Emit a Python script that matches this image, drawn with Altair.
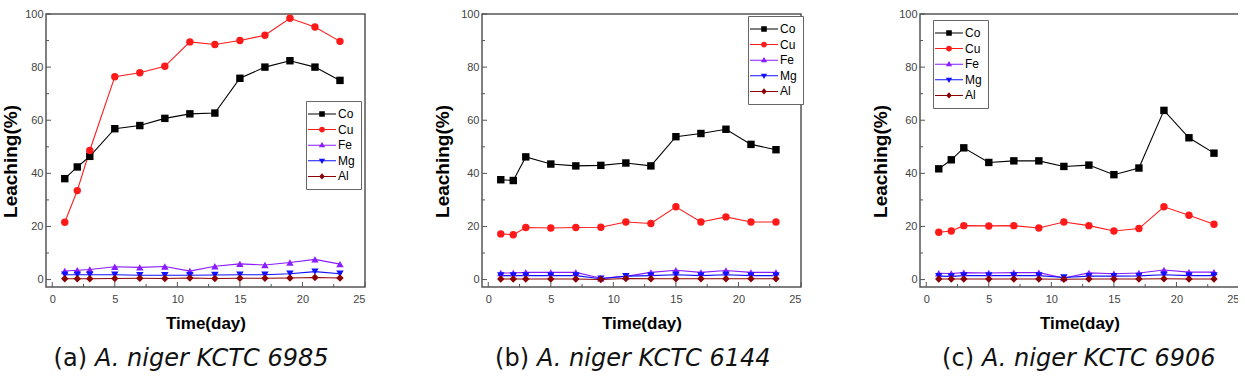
import altair as alt
import pandas as pd

# Sampling days (same for every strain)
days = [1, 2, 3, 5, 7, 9, 11, 13, 15, 17, 19, 21, 23]
metals = ["Co", "Cu", "Fe", "Mg", "Al"]
metal_colors = ["#000000", "#ff1a1a", "#8a1cff", "#1010ff", "#8b0000"]
point_shapes = ["square", "circle", "triangle-up", "triangle-down", "diamond"]

# Leaching (%) per strain and metal
co_a = [38.0, 42.4, 46.4, 56.8, 58.0, 60.7, 62.4, 62.7, 75.8, 80.0, 82.4, 80.0, 75.0]
cu_a = [21.6, 33.5, 48.6, 76.4, 77.9, 80.3, 89.5, 88.5, 90.0, 92.0, 98.4, 95.1, 89.7]
fe_a = [3.2, 3.5, 3.8, 4.8, 4.6, 4.9, 3.2, 5.0, 5.9, 5.5, 6.4, 7.6, 5.8]
mg_a = [1.8, 1.8, 1.8, 1.8, 1.6, 1.6, 1.6, 1.7, 1.8, 1.8, 2.2, 3.0, 2.2]
al_a = [0.3, 0.3, 0.3, 0.4, 0.5, 0.4, 0.6, 0.4, 0.5, 0.5, 0.6, 0.8, 0.6]

co_b = [37.6, 37.3, 46.2, 43.5, 42.8, 43.0, 43.9, 42.8, 53.8, 55.0, 56.6, 50.9, 48.9]
cu_b = [17.2, 16.9, 19.6, 19.4, 19.6, 19.7, 21.7, 21.1, 27.4, 21.7, 23.6, 21.7, 21.7]
fe_b = [2.5, 2.5, 2.7, 2.7, 2.7, 0.5, 1.2, 2.7, 3.5, 2.7, 3.4, 2.7, 2.7]
mg_b = [1.5, 1.5, 1.5, 1.5, 1.5, 0.3, 1.3, 1.5, 1.8, 1.5, 1.8, 1.5, 1.5]
al_b = [0.2, 0.2, 0.2, 0.2, 0.2, 0.0, 0.4, 0.3, 0.3, 0.3, 0.3, 0.3, 0.3]

co_c = [41.7, 45.1, 49.6, 44.1, 44.7, 44.7, 42.6, 43.1, 39.5, 42.0, 63.7, 53.4, 47.6]
cu_c = [17.8, 18.3, 20.3, 20.2, 20.3, 19.4, 21.7, 20.3, 18.3, 19.2, 27.4, 24.2, 20.8]
fe_c = [2.4, 2.3, 2.6, 2.5, 2.6, 2.6, 0.6, 2.5, 2.2, 2.5, 3.6, 2.8, 2.8]
mg_c = [1.3, 1.2, 1.5, 1.5, 1.5, 1.5, 0.8, 1.3, 1.3, 1.4, 1.8, 1.5, 1.5]
al_c = [0.2, 0.2, 0.2, 0.2, 0.2, 0.2, 0.1, 0.2, 0.2, 0.2, 0.3, 0.2, 0.2]

panel_tags = ["(a)", "(b)", "(c)"]
strains = ["A. niger KCTC 6985", "A. niger KCTC 6144", "A. niger KCTC 6906"]
series = [
    [co_a, cu_a, fe_a, mg_a, al_a],
    [co_b, cu_b, fe_b, mg_b, al_b],
    [co_c, cu_c, fe_c, mg_c, al_c],
]

# Axis tick values
x_major = [0, 5, 10, 15, 20, 25]
x_minor = [2.5, 7.5, 12.5, 17.5, 22.5]
y_major = [0, 20, 40, 60, 80, 100]
y_minor = [10, 30, 50, 70, 90]

# Layout
W, H = 319, 273
X_DOMAIN = [-0.5, 25]
Y_DOMAIN = [-2.8, 100]
FONT = "Liberation Sans, Arial, sans-serif"
NARROW = "Liberation Sans Narrow, Arial Narrow, Liberation Sans, sans-serif"
CAPTION_FONT = "DejaVu Sans, sans-serif"
legend_pos = [(260, 87), (266, 2), (13, 6)]
caption_x = [49, 55, 62]
y_title_pad = [4, 8, 8]

# Legend glyphs: a short line with the marker on it (unit box is +-1)
seg = "M-2,-0.07H2V0.07H-2Z "
legend_paths = [
    seg + "M-0.4,-0.4H0.4V0.4H-0.4Z",
    seg + "M-0.42,0A0.42,0.42 0 1,1 0.42,0A0.42,0.42 0 1,1 -0.42,0Z",
    seg + "M0,-0.45L0.45,0.3L-0.45,0.3Z",
    seg + "M-0.45,-0.3L0.45,-0.3L0,0.45Z",
    seg + "M0,-0.45L0.4,0L0,0.45L-0.4,0Z",
]

x_scale = alt.Scale(domain=X_DOMAIN, nice=False, zero=False)
y_scale = alt.Scale(domain=Y_DOMAIN, nice=False, zero=False)

x_enc = alt.X(
    "day:Q", scale=x_scale,
    axis=alt.Axis(
        values=x_major, format="d", title="Time(day)", grid=False, domain=False,
        ticks=False, tickSize=0, labelPadding=6, labelFont=FONT, labelFontSize=11,
        labelColor="#444", titleFont=NARROW, titleFontSize=17, titleFontWeight="bold",
        titleColor="#000", titlePadding=11,
    ),
)


def y_encoding(pad):
    return alt.Y(
        "value:Q", scale=y_scale,
        axis=alt.Axis(
            values=y_major, title="Leaching(%)", grid=False, domain=False,
            ticks=False, tickSize=0, labelPadding=3, labelFont=FONT, labelFontSize=11,
            labelColor="#444", titleFont=FONT, titleFontSize=19, titleFontWeight="bold",
            titleColor="#000", titlePadding=pad, titleY=147,
        ),
    )


def build_panel(i):
    y_enc = y_encoding(y_title_pad[i])
    frames = {}
    for metal, values in zip(metals, series[i]):
        frames[metal] = pd.DataFrame({"day": days, "metal": metal, "value": values})
    df = pd.concat(frames.values(), ignore_index=True)

    # One line and one marker layer per metal
    line_layers = [
        alt.Chart(frames[m]).mark_line(color=c, strokeWidth=1.1).encode(x=x_enc, y=y_enc)
        for m, c in zip(metals, metal_colors)
    ]
    point_layers = [
        alt.Chart(frames[m]).mark_point(filled=True, opacity=1, size=55, shape=s, color=c).encode(
            x=x_enc, y=y_enc
        )
        for m, c, s in zip(metals, metal_colors, point_shapes)
    ]

    lx, ly = legend_pos[i]
    leg = alt.Legend(
        title=None, orient="none", legendX=lx, legendY=ly, direction="vertical",
        strokeColor="#666", fillColor="white", padding=6, symbolSize=196,
        symbolOffset=3, labelOffset=9, symbolStrokeWidth=0, rowPadding=2.6,
        labelFont=FONT, labelFontSize=12, labelColor="#000",
    )
    legend_layer = alt.Chart(df).transform_filter("datum.day < 0").mark_point(
        filled=True, opacity=1
    ).encode(
        x=x_enc, y=y_enc,
        color=alt.Color("metal:N", scale=alt.Scale(domain=metals, range=metal_colors), legend=leg),
        shape=alt.Shape("metal:N", scale=alt.Scale(domain=metals, range=legend_paths), legend=leg),
    )

    # Inward tick marks along the left and bottom frame
    y_ticks = alt.Chart(pd.DataFrame({"value": y_major})).mark_rule(color="#555", strokeWidth=1).encode(
        y=y_enc, x=alt.value(0), x2=alt.value(5)
    )
    y_ticks_minor = alt.Chart(pd.DataFrame({"value": y_minor})).mark_rule(color="#555", strokeWidth=1).encode(
        y=y_enc, x=alt.value(0), x2=alt.value(3)
    )
    x_ticks = alt.Chart(pd.DataFrame({"day": x_major})).mark_rule(color="#555", strokeWidth=1).encode(
        x=x_enc, y=alt.value(H), y2=alt.value(H - 5)
    )
    x_ticks_minor = alt.Chart(pd.DataFrame({"day": x_minor})).mark_rule(color="#555", strokeWidth=1).encode(
        x=x_enc, y=alt.value(H), y2=alt.value(H - 3)
    )

    cx = caption_x[i]
    tag = alt.Chart(pd.DataFrame({"t": [panel_tags[i]]})).mark_text(
        align="right", baseline="alphabetic", font=CAPTION_FONT, fontSize=24, color="#111"
    ).encode(text="t:N", x=alt.value(cx - 8), y=alt.value(H + 79))
    strain = alt.Chart(pd.DataFrame({"t": [strains[i]]})).mark_text(
        align="left", baseline="alphabetic", font=CAPTION_FONT, fontSize=24,
        fontStyle="italic", color="#111"
    ).encode(text="t:N", x=alt.value(cx), y=alt.value(H + 79))

    return alt.layer(
        *line_layers, *point_layers, legend_layer,
        y_ticks, y_ticks_minor, x_ticks, x_ticks_minor, tag, strain
    ).properties(width=W, height=H)


chart = alt.hconcat(*[build_panel(i) for i in range(3)], spacing=65).resolve_scale(
    color="independent", shape="independent"
).properties(
    padding={"left": 0, "top": 7, "right": -3, "bottom": 0},
    background="white",
).configure_view(stroke="#555", strokeWidth=1.5)

chart.save("out.html", embed_options={"renderer": "svg", "actions": False})
